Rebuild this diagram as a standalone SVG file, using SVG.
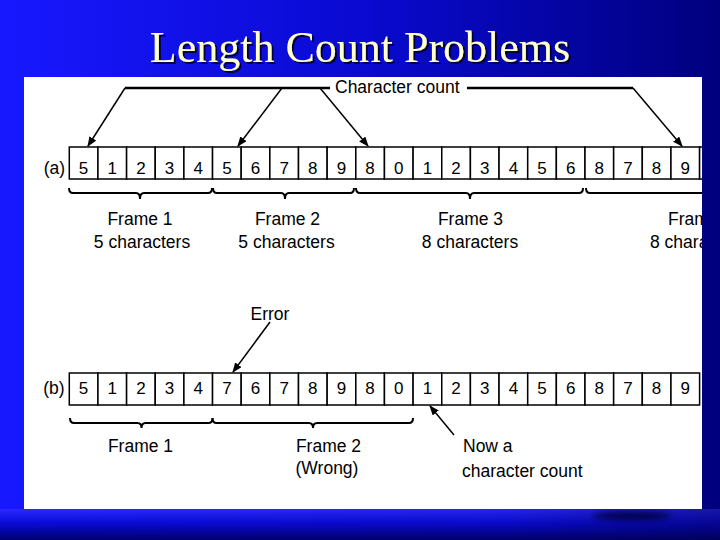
<svg xmlns="http://www.w3.org/2000/svg" width="720" height="540" viewBox="0 0 720 540">
<defs>
<linearGradient id="bg" x1="0" y1="0" x2="1" y2="0"><stop offset="0" stop-color="#1818ff"/><stop offset="0.5" stop-color="#0a0ad2"/><stop offset="1" stop-color="#00007e"/></linearGradient>
<linearGradient id="bot" x1="0" y1="0" x2="0" y2="1"><stop offset="0" stop-color="#2a2aff"/><stop offset="0.45" stop-color="#0a0ad8"/><stop offset="1" stop-color="#000070"/></linearGradient>
<linearGradient id="botH" x1="0" y1="0" x2="1" y2="0"><stop offset="0" stop-color="#000040" stop-opacity="0"/><stop offset="0.7" stop-color="#000040" stop-opacity="0.1"/><stop offset="1" stop-color="#000040" stop-opacity="0.45"/></linearGradient>
<marker id="ah" markerWidth="10" markerHeight="8" refX="9" refY="4" orient="auto" markerUnits="userSpaceOnUse"><path d="M0,0 L10,4 L0,8 z" fill="#000"/></marker>
<clipPath id="pc"><rect x="24" y="77" width="678" height="432"/></clipPath>
<filter id="blur" x="-50%" y="-100%" width="200%" height="300%"><feGaussianBlur stdDeviation="3"/></filter>
<filter id="shadow" x="-10%" y="-30%" width="120%" height="160%"><feDropShadow dx="2" dy="2" stdDeviation="0.6" flood-color="#000030" flood-opacity="0.9"/></filter>
</defs>
<style>
.t{font-family:"Liberation Sans",Arial,Helvetica,sans-serif;font-size:17.5px;fill:#000}
.c{text-anchor:middle}
.d{font-family:"Liberation Sans",Arial,Helvetica,sans-serif;font-size:17px;text-anchor:middle;fill:#000}
.ttl{font-family:"Liberation Serif","Times New Roman",serif;font-size:44px;text-anchor:middle}
.ln{stroke:#000;stroke-width:1.5;fill:none}
.hl{stroke:#000;stroke-width:2.5;fill:none}
.br{stroke:#000;stroke-width:2;fill:none}
.box{fill:#fff;stroke:#000;stroke-width:1.5}
</style>

<!-- background -->
<rect x="0" y="0" width="720" height="540" fill="url(#bg)"/>
<rect x="0" y="509" width="720" height="31" fill="url(#bot)"/>
<rect x="0" y="509" width="720" height="31" fill="url(#botH)"/>
<ellipse cx="632" cy="516" rx="40" ry="4" fill="#000040" filter="url(#blur)"/>

<!-- title -->
<g id="title">
<text class="ttl" x="360" y="62" fill="#ffffcc" filter="url(#shadow)">Length Count Problems</text>
</g>

<!-- panel -->
<rect id="panel" x="24" y="77" width="678" height="432" fill="#fff"/>

<g clip-path="url(#pc)">
<!-- row a -->
<g id="row-a">
<text class="t c" x="54.5" y="174">(a)</text>
<rect class="box" x="69.3" y="147" width="28.65" height="32"/><text class="d" x="83.6" y="174">5</text>
<rect class="box" x="97.95" y="147" width="28.65" height="32"/><text class="d" x="112.3" y="174">1</text>
<rect class="box" x="126.6" y="147" width="28.65" height="32"/><text class="d" x="140.9" y="174">2</text>
<rect class="box" x="155.25" y="147" width="28.65" height="32"/><text class="d" x="169.6" y="174">3</text>
<rect class="box" x="183.9" y="147" width="28.65" height="32"/><text class="d" x="198.2" y="174">4</text>
<rect class="box" x="212.55" y="147" width="28.65" height="32"/><text class="d" x="226.9" y="174">5</text>
<rect class="box" x="241.2" y="147" width="28.65" height="32"/><text class="d" x="255.5" y="174">6</text>
<rect class="box" x="269.85" y="147" width="28.65" height="32"/><text class="d" x="284.2" y="174">7</text>
<rect class="box" x="298.5" y="147" width="28.65" height="32"/><text class="d" x="312.8" y="174">8</text>
<rect class="box" x="327.15" y="147" width="28.65" height="32"/><text class="d" x="341.5" y="174">9</text>
<rect class="box" x="355.8" y="147" width="28.65" height="32"/><text class="d" x="370.1" y="174">8</text>
<rect class="box" x="384.45" y="147" width="28.65" height="32"/><text class="d" x="398.8" y="174">0</text>
<rect class="box" x="413.1" y="147" width="28.65" height="32"/><text class="d" x="427.4" y="174">1</text>
<rect class="box" x="441.75" y="147" width="28.65" height="32"/><text class="d" x="456.1" y="174">2</text>
<rect class="box" x="470.4" y="147" width="28.65" height="32"/><text class="d" x="484.7" y="174">3</text>
<rect class="box" x="499.05" y="147" width="28.65" height="32"/><text class="d" x="513.4" y="174">4</text>
<rect class="box" x="527.7" y="147" width="28.65" height="32"/><text class="d" x="542.0" y="174">5</text>
<rect class="box" x="556.35" y="147" width="28.65" height="32"/><text class="d" x="570.7" y="174">6</text>
<rect class="box" x="585.0" y="147" width="28.65" height="32"/><text class="d" x="599.3" y="174">8</text>
<rect class="box" x="613.65" y="147" width="28.65" height="32"/><text class="d" x="628.0" y="174">7</text>
<rect class="box" x="642.3" y="147" width="28.65" height="32"/><text class="d" x="656.6" y="174">8</text>
<rect class="box" x="670.95" y="147" width="28.65" height="32"/><text class="d" x="685.3" y="174">9</text>
<rect class="box" x="699.6" y="147" width="28.65" height="32"/>
</g>

<!-- row b -->
<g id="row-b">
<text class="t c" x="54" y="394">(b)</text>
<rect class="box" x="69.3" y="373" width="28.65" height="32"/><text class="d" x="83.6" y="394">5</text>
<rect class="box" x="97.95" y="373" width="28.65" height="32"/><text class="d" x="112.3" y="394">1</text>
<rect class="box" x="126.6" y="373" width="28.65" height="32"/><text class="d" x="140.9" y="394">2</text>
<rect class="box" x="155.25" y="373" width="28.65" height="32"/><text class="d" x="169.6" y="394">3</text>
<rect class="box" x="183.9" y="373" width="28.65" height="32"/><text class="d" x="198.2" y="394">4</text>
<rect class="box" x="212.55" y="373" width="28.65" height="32"/><text class="d" x="226.9" y="394">7</text>
<rect class="box" x="241.2" y="373" width="28.65" height="32"/><text class="d" x="255.5" y="394">6</text>
<rect class="box" x="269.85" y="373" width="28.65" height="32"/><text class="d" x="284.2" y="394">7</text>
<rect class="box" x="298.5" y="373" width="28.65" height="32"/><text class="d" x="312.8" y="394">8</text>
<rect class="box" x="327.15" y="373" width="28.65" height="32"/><text class="d" x="341.5" y="394">9</text>
<rect class="box" x="355.8" y="373" width="28.65" height="32"/><text class="d" x="370.1" y="394">8</text>
<rect class="box" x="384.45" y="373" width="28.65" height="32"/><text class="d" x="398.8" y="394">0</text>
<rect class="box" x="413.1" y="373" width="28.65" height="32"/><text class="d" x="427.4" y="394">1</text>
<rect class="box" x="441.75" y="373" width="28.65" height="32"/><text class="d" x="456.1" y="394">2</text>
<rect class="box" x="470.4" y="373" width="28.65" height="32"/><text class="d" x="484.7" y="394">3</text>
<rect class="box" x="499.05" y="373" width="28.65" height="32"/><text class="d" x="513.4" y="394">4</text>
<rect class="box" x="527.7" y="373" width="28.65" height="32"/><text class="d" x="542.0" y="394">5</text>
<rect class="box" x="556.35" y="373" width="28.65" height="32"/><text class="d" x="570.7" y="394">6</text>
<rect class="box" x="585.0" y="373" width="28.65" height="32"/><text class="d" x="599.3" y="394">8</text>
<rect class="box" x="613.65" y="373" width="28.65" height="32"/><text class="d" x="628.0" y="394">7</text>
<rect class="box" x="642.3" y="373" width="28.65" height="32"/><text class="d" x="656.6" y="394">8</text>
<rect class="box" x="670.95" y="373" width="28.65" height="32"/><text class="d" x="685.3" y="394">9</text>
</g>

<!-- connectors -->
<g id="connectors">
<path class="hl" d="M125,88 H330 M467,88 H633"/>
<line class="ln" x1="125" y1="88" x2="88" y2="146" marker-end="url(#ah)"/>
<line class="ln" x1="282" y1="88" x2="238" y2="146" marker-end="url(#ah)"/>
<line class="ln" x1="320" y1="88" x2="368" y2="146" marker-end="url(#ah)"/>
<line class="ln" x1="633" y1="88" x2="682" y2="146" marker-end="url(#ah)"/>
<line class="ln" x1="270" y1="322" x2="233" y2="372" marker-end="url(#ah)"/>
<line class="ln" x1="454" y1="435" x2="430" y2="406" marker-end="url(#ah)"/>
<!-- braces row a -->
<path class="br" d="M69,188 Q69,193 73,193 L136,193 Q140,193 140,199 Q140,193 144,193 L208,193 Q212,193 212,188"/>
<path class="br" d="M213,188 Q213,193 217,193 L281,193 Q285,193 285,199 Q285,193 289,193 L350,193 Q354,193 354,188"/>
<path class="br" d="M356,188 Q356,193 360,193 L466,193 Q470,193 470,199 Q470,193 474,193 L579,193 Q583,193 583,188"/>
<path class="br" d="M586,188 Q586,193 590,193 L740,193"/>
<!-- braces row b -->
<path class="br" d="M70,418 Q70,423 74,423 L137.5,423 Q141.5,423 141.5,428 Q141.5,423 145.5,423 L208.5,423 Q212.5,423 212.5,418"/>
<path class="br" d="M212.5,418 Q212.5,423 216.5,423 L309,423 Q313,423 313,428 Q313,423 317,423 L409,423 Q413,423 413,418"/>
</g>

<!-- labels -->
<g id="label-count"><text class="t" x="335" y="93">Character count</text></g>
<g id="label-frames-a">
<text class="t c" x="140" y="225">Frame 1</text>
<text class="t c" x="142" y="248">5 characters</text>
<text class="t c" x="287.5" y="225">Frame 2</text>
<text class="t c" x="286.5" y="248">5 characters</text>
<text class="t c" x="470.5" y="225">Frame 3</text>
<text class="t c" x="470" y="248">8 characters</text>
<text class="t" x="668" y="225">Frame 4</text>
<text class="t" x="650" y="248">8 characters</text>
</g>
<g id="label-error"><text class="t c" x="270" y="320">Error</text></g>
<g id="label-frames-b">
<text class="t c" x="140.5" y="452">Frame 1</text>
<text class="t c" x="328.5" y="452">Frame 2</text>
<text class="t c" x="327" y="474">(Wrong)</text>
</g>
<g id="label-now">
<text class="t" x="463" y="452">Now a</text>
<text class="t" x="462" y="477">character count</text>
</g>
</g>
</svg>
